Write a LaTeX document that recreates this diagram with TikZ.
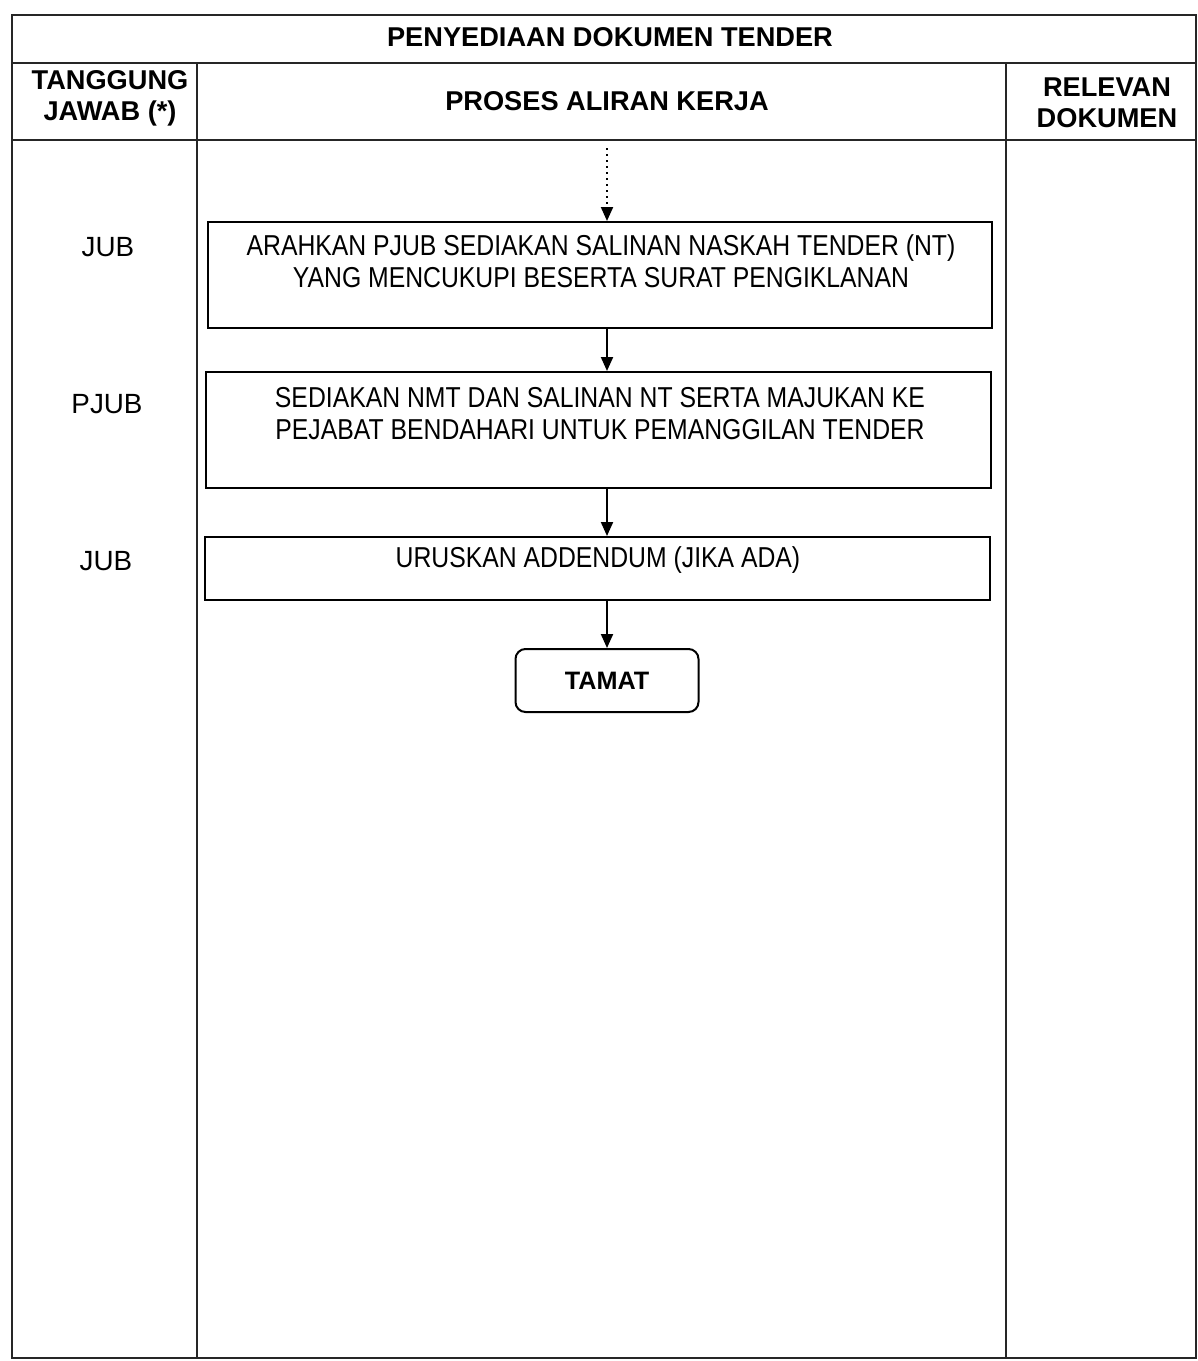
\documentclass[tikz,border=0pt]{standalone}
\usepackage{fontspec}
\setmainfont{Liberation Sans}
\newfontfamily\narrowfont[FakeStretch=0.86]{Liberation Sans}
\usetikzlibrary{arrows.meta}

\begin{document}
\begin{tikzpicture}[x=0.5pt,y=-0.5pt,
  rule/.style={line width=1.1pt, draw=black!85},
  headtext/.style={font=\fontsize{13.6}{15.5}\selectfont\bfseries, align=center, inner sep=0pt},
  roletext/.style={font=\fontsize{13.9}{15}\selectfont, inner sep=0pt},
  flowtext/.style={font=\narrowfont\fontsize{14.4}{16}\selectfont, align=center, inner sep=0pt},
  stepbox/.style={draw, line width=1pt, rectangle, inner sep=0pt},
  endbox/.style={draw, line width=1pt, rectangle, rounded corners=5pt, inner sep=0pt,
    minimum width=91.5pt, minimum height=31.5pt, font=\fontsize{12.6}{14}\selectfont\bfseries},
  arr/.style={line width=1pt, -{Triangle[width=6pt,length=7pt]}}
]
\useasboundingbox (0,0) rectangle (1198,1361);

% table frame
\draw[rule] (12,15) rectangle (1196,1358);
\draw[rule] (12,63) -- (1196,63);
\draw[rule] (12,140) -- (1196,140);
\draw[rule] (197,63) -- (197,1358);
\draw[rule] (1006,63) -- (1006,1358);

% headings
\node[headtext] (title) at (610,37) {PENYEDIAAN DOKUMEN TENDER};
\node[headtext] (hresp) at (110,98) {TANGGUNG\\JAWAB (*)};
\node[headtext] (hproc) at (607,101) {PROSES ALIRAN KERJA};
\node[headtext] (hdoc) at (1107,103) {RELEVAN\\DOKUMEN};

% responsibilities
\node[roletext] (r1) at (108,247) {JUB};
\node[roletext] (r2) at (107,404) {PJUB};
\node[roletext] (r3) at (106,561) {JUB};

% process steps
\node[stepbox, minimum width=392pt, minimum height=53pt] (b1) at (600,275) {};
\node[flowtext] (t1) at (601,261) {ARAHKAN PJUB SEDIAKAN SALINAN NASKAH TENDER (NT)\\YANG MENCUKUPI BESERTA SURAT PENGIKLANAN};

\node[stepbox, minimum width=392.5pt, minimum height=58pt] (b2) at (598.5,430) {};
\node[flowtext] (t2) at (600,414) {SEDIAKAN NMT DAN SALINAN NT SERTA MAJUKAN KE\\PEJABAT BENDAHARI UNTUK PEMANGGILAN TENDER};

\node[stepbox, minimum width=392.5pt, minimum height=31.5pt] (b3) at (597.5,568.5) {};
\node[flowtext] (t3) at (598,560) {URUSKAN ADDENDUM (JIKA ADA)};

\node[endbox] (tm) at (607,680.5) {TAMAT};

% connectors
\coordinate (in) at (607,148);
\draw[arr, dotted] (in) -- (b1.north -| in);
\draw[arr] (b1.south -| tm) -- (b2.north -| tm);
\draw[arr] (b2.south -| tm) -- (b3.north -| tm);
\draw[arr] (b3.south -| tm) -- (tm.north);
\end{tikzpicture}
\end{document}
